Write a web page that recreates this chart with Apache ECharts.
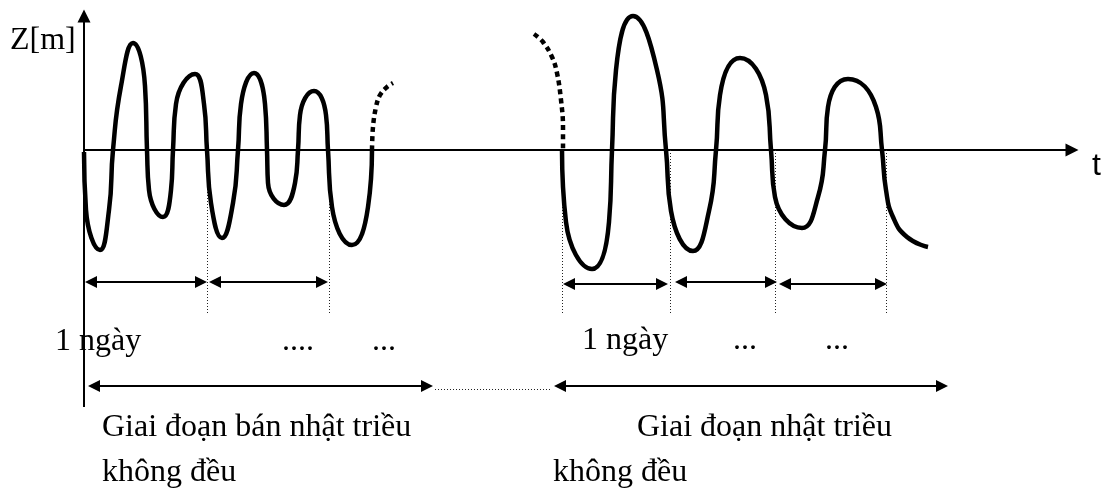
<!DOCTYPE html>
<html>
<head>
<meta charset="utf-8">
<script src="https://cdn.jsdelivr.net/npm/echarts@6/dist/echarts.min.js"></script>
<style>
  html, body { margin: 0; padding: 0; background: #fff; }
  #tideChart { width: 1101px; height: 489px; }
</style>
</head>
<body>
<div id="tideChart"></div>
<script>
// Tide sketch: semi-diurnal phase (left) and diurnal phase (right)

// water level curves [t, Z]: zero crossings, flanks and turning points
var semiDiurnal = [
    [0, -2], [2, -60], [16, -100], [25, -60], [29, 0],
    [37, 64], [49, 107], [61, 64], [63, 0],
    [65, -40], [79, -67], [87, -40], [89, 0],
    [92, 46], [111, 76], [120, 46], [123, 0],
    [127, -53], [138, -88], [149, -53], [154, 0],
    [157, 46], [170, 77], [181, 46], [183, 0],
    [184, -33], [200, -55], [211, -33], [214, 0],
    [216, 35], [230, 59], [242, 35], [244, 0],
    [248, -57], [268, -95], [284, -57], [288, 0]
];
var semiDiurnalTail = [[288, 0], [289, 23], [292, 43], [296, 55], [303, 63], [309, 67]];
var diurnalHead = [[450, 116], [459, 108], [468, 93], [473, 77], [477, 50], [479, 23], [479, 0]];
var diurnal = [
    [478, 0], [482, -72], [508, -119], [525, -72], [528, 0],
    [532, 80], [549, 134], [573, 80], [582, 0],
    [587, -61], [609, -101], [625, -61], [632, 0],
    [636, 55], [656, 92], [682, 55], [687, 0],
    [691, -47], [718, -78], [734, -47], [741, 0],
    [744, 43], [764, 71], [792, 43], [798, 0],
    [802, -40], [809, -67], [823, -87], [844, -97]
];

// day marks: dotted guides, one-day spans, phase spans
var guideTimes = [123, 245, 478, 586, 691, 802];
var guideDepth = -163;
var daySpans = [[1, 123, -132], [125, 244, -132], [479, 584, -134], [591, 693, -132], [695, 803, -134]];
var phaseSpans = [[4, 349, -236], [470, 864, -236]];
var phaseGap = [351, 466, -239];

// text
var dayLabels = ['1 ngày', '....', '...', '1 ngày', '...', '...'];
var phaseLabels = ['Giai đoạn bán nhật triều', 'không đều', 'Giai đoạn nhật triều', 'không đều'];

document.addEventListener('DOMContentLoaded', () => {
    var chart = echarts.init(document.querySelector('#tideChart'));

    var serif = '"Liberation Serif", "Times New Roman", serif';
    var txt = function (text, x, baseline, font) {
        return {
            type: 'text', x: x, y: baseline - 9, silent: true,
            style: { text: text, font: font || ('32px ' + serif), fill: '#000', verticalAlign: 'middle' }
        };
    };

    var wave = function (data, dashed, smooth) {
        return {
            type: 'line', data: data, smooth: smooth, showSymbol: false, silent: true,
            lineStyle: { color: '#000', width: 4.5, type: dashed ? [5, 4] : 'solid', cap: 'butt' }
        };
    };

    var segs = function (list, style, symbol, size) {
        return {
            type: 'lines', coordinateSystem: 'cartesian2d', silent: true,
            symbol: symbol || 'none', symbolSize: size || 10,
            lineStyle: Object.assign({ color: '#000', opacity: 1, curveness: 0 }, style),
            data: list
        };
    };
    // horizontal double arrow; symbols are centred on the ends, so pull them in
    var span = function (s) {
        return { coords: [[s[0] + 6, s[2]], [s[1] - 6, s[2]]] };
    };

    chart.setOption({
        animation: false,
        grid: { left: 0, right: 0, top: 0, bottom: 0 },
        xAxis: { type: 'value', min: -84, max: 1017, show: false },
        yAxis: { type: 'value', min: -339, max: 150, show: false },
        series: [
            segs([{ coords: [[0, 0], [994 - 6, 0]] }, { coords: [[0, -257], [0, 140 - 6]] }],
                { width: 2 }, ['none', 'triangle'], 13),
            segs(guideTimes.map(t => ({ coords: [[t, 0], [t, guideDepth]] })),
                { width: 1, type: [1, 2], color: '#222' }),
            segs(daySpans.map(span), { width: 2 }, ['triangle', 'triangle'], 12),
            segs(phaseSpans.map(span), { width: 2 }, ['triangle', 'triangle'], 12),
            segs([{ coords: [[phaseGap[0], phaseGap[2]], [phaseGap[1], phaseGap[2]]] }],
                { width: 1, type: [1, 2], color: '#222' }),
            wave(semiDiurnal, false, 0.5),
            wave(semiDiurnalTail, true, 0.4),
            wave(diurnalHead, true, 0.4),
            wave(diurnal, false, 0.5)
        ],
        graphic: [
            txt('Z[m]', 10, 50),
            txt('t', 1092, 175, '32px "Liberation Sans", Arial, sans-serif'),
            txt(dayLabels[0], 55, 351),
            txt(dayLabels[1], 282, 351),
            txt(dayLabels[2], 372, 351),
            txt(dayLabels[3], 582, 350),
            txt(dayLabels[4], 733, 350),
            txt(dayLabels[5], 825, 350),
            txt(phaseLabels[0], 102, 437),
            txt(phaseLabels[1], 102, 482),
            txt(phaseLabels[2], 637, 437),
            txt(phaseLabels[3], 553, 482)
        ]
    });
});
</script>
</body>
</html>
